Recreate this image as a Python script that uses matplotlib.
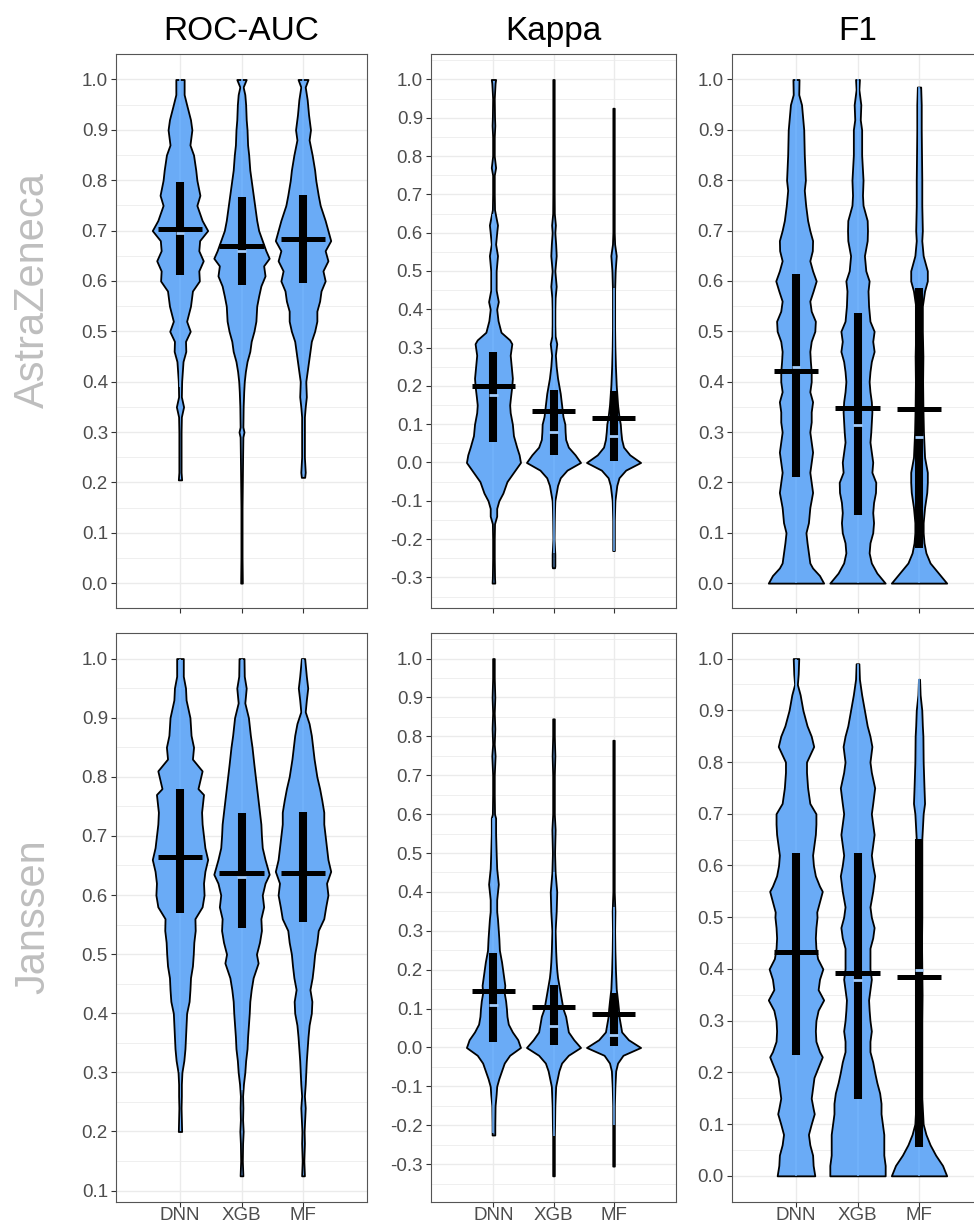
import numpy as np
import matplotlib.pyplot as plt

plt.rcParams["font.family"] = ["Liberation Sans", "DejaVu Sans"]
plt.rcParams["axes.unicode_minus"] = False

models = ["DNN", "XGB", "MF"]
metrics = ["ROC-AUC", "Kappa", "F1"]
companies = ["AstraZeneca", "Janssen"]

# violin outlines: y values and relative half-widths (1 = widest)
# AstraZeneca / ROC-AUC
az_auc_dnn_y = [0.205, 0.22, 0.25, 0.30, 0.33, 0.35, 0.37, 0.40, 0.44, 0.46, 0.48, 0.50, 0.52, 0.55, 0.58,
                0.60, 0.62, 0.64, 0.66, 0.68, 0.70, 0.72, 0.75, 0.77, 0.80, 0.82, 0.85, 0.87, 0.90, 0.92,
                0.95, 0.97, 1.00]
az_auc_dnn_w = [0.06, 0.04, 0.04, 0.04, 0.05, 0.13, 0.05, 0.06, 0.11, 0.21, 0.20, 0.37, 0.24, 0.38, 0.45,
                0.70, 0.68, 0.84, 0.68, 0.71, 1.00, 0.80, 0.61, 0.72, 0.61, 0.57, 0.49, 0.36, 0.43, 0.38,
                0.24, 0.15, 0.15]
az_auc_xgb_y = [0.0, 0.05, 0.10, 0.15, 0.20, 0.25, 0.29, 0.30, 0.31, 0.35, 0.38, 0.40, 0.42, 0.44, 0.46,
                0.48, 0.50, 0.52, 0.55, 0.57, 0.59, 0.61, 0.63, 0.645, 0.66, 0.68, 0.70, 0.72, 0.74, 0.76,
                0.78, 0.80, 0.82, 0.85, 0.87, 0.90, 0.92, 0.95, 0.97, 0.985, 1.0]
az_auc_xgb_w = [0.03, 0.02, 0.02, 0.02, 0.03, 0.04, 0.05, 0.09, 0.05, 0.06, 0.08, 0.10, 0.14, 0.20, 0.30,
                0.35, 0.45, 0.52, 0.55, 0.62, 0.70, 0.85, 0.80, 1.0, 0.88, 0.75, 0.62, 0.55, 0.50, 0.45,
                0.40, 0.35, 0.30, 0.26, 0.22, 0.20, 0.17, 0.15, 0.12, 0.06, 0.17]
az_auc_mf_y = [0.21, 0.22, 0.25, 0.30, 0.33, 0.35, 0.37, 0.40, 0.42, 0.44, 0.46, 0.48, 0.50, 0.52, 0.54,
               0.56, 0.58, 0.60, 0.62, 0.64, 0.66, 0.68, 0.70, 0.72, 0.75, 0.77, 0.80, 0.82, 0.85, 0.88,
               0.90, 0.93, 0.96, 0.985, 1.0]
az_auc_mf_w = [0.06, 0.08, 0.05, 0.05, 0.05, 0.08, 0.12, 0.10, 0.15, 0.20, 0.25, 0.30, 0.42, 0.50, 0.50,
               0.60, 0.65, 0.80, 0.72, 0.90, 0.80, 1.0, 0.90, 0.80, 0.62, 0.55, 0.46, 0.42, 0.33, 0.22,
               0.27, 0.20, 0.15, 0.08, 0.18]

# AstraZeneca / Kappa
az_kap_dnn_y = [-0.315, -0.30, -0.25, -0.20, -0.16, -0.14, -0.12, -0.10, -0.08, -0.05, -0.03, -0.01, 0.0,
                0.02, 0.04, 0.07, 0.10, 0.13, 0.15, 0.17, 0.20, 0.22, 0.25, 0.28, 0.31, 0.32, 0.34, 0.37,
                0.40, 0.42, 0.45, 0.48, 0.50, 0.54, 0.57, 0.60, 0.62, 0.645, 0.66, 0.70, 0.75, 0.77, 0.80,
                0.85, 0.88, 0.90, 0.95, 0.99, 1.0]
az_kap_dnn_w = [0.05, 0.04, 0.03, 0.03, 0.04, 0.12, 0.12, 0.20, 0.35, 0.50, 0.70, 0.90, 1.0,
                0.95, 0.86, 0.74, 0.70, 0.62, 0.60, 0.63, 0.68, 0.70, 0.66, 0.62, 0.68, 0.60, 0.28, 0.17,
                0.12, 0.18, 0.10, 0.10, 0.10, 0.15, 0.08, 0.12, 0.15, 0.08, 0.04, 0.03, 0.03, 0.08, 0.03,
                0.03, 0.05, 0.04, 0.03, 0.06, 0.08]
az_kap_xgb_y = [-0.275, -0.27, -0.24, -0.20, -0.15, -0.12, -0.10, -0.08, -0.06, -0.04, -0.02, 0.0, 0.02,
                0.04, 0.06, 0.08, 0.10, 0.12, 0.15, 0.18, 0.20, 0.22, 0.25, 0.28, 0.31, 0.33, 0.36, 0.40,
                0.43, 0.46, 0.50, 0.54, 0.57, 0.60, 0.62, 0.65, 0.70, 0.80, 0.90, 1.0]
az_kap_xgb_w = [0.04, 0.05, 0.05, 0.02, 0.03, 0.04, 0.05, 0.10, 0.15, 0.25, 0.50, 1.0, 0.80,
                0.55, 0.45, 0.43, 0.42, 0.35, 0.30, 0.25, 0.20, 0.15, 0.10, 0.07, 0.12, 0.06, 0.05, 0.05,
                0.06, 0.10, 0.05, 0.10, 0.08, 0.05, 0.07, 0.03, 0.025, 0.025, 0.025, 0.025]
az_kap_mf_y = [-0.23, -0.20, -0.15, -0.10, -0.06, -0.04, -0.02, 0.0, 0.02, 0.04, 0.06, 0.08, 0.10, 0.12,
               0.15, 0.20, 0.25, 0.30, 0.35, 0.45, 0.50, 0.54, 0.57, 0.60, 0.70, 0.80, 0.925]
az_kap_mf_w = [0.03, 0.03, 0.03, 0.05, 0.12, 0.20, 0.45, 1.0, 0.60, 0.37, 0.30, 0.27, 0.25, 0.20,
               0.15, 0.10, 0.07, 0.05, 0.04, 0.04, 0.06, 0.10, 0.04, 0.025, 0.025, 0.025, 0.025]

# AstraZeneca / F1
az_f1_dnn_y = [0.0, 0.015, 0.03, 0.04, 0.06, 0.08, 0.10, 0.12, 0.15, 0.18, 0.20, 0.22, 0.24, 0.26, 0.28,
               0.30, 0.32, 0.34, 0.36, 0.38, 0.40, 0.42, 0.44, 0.46, 0.48, 0.50, 0.52, 0.54, 0.56, 0.58,
               0.60, 0.62, 0.64, 0.66, 0.68, 0.70, 0.72, 0.75, 0.78, 0.80, 0.85, 0.90, 0.95, 0.97, 1.0]
az_f1_dnn_w = [1.0, 0.85, 0.60, 0.50, 0.45, 0.40, 0.36, 0.45, 0.50, 0.60, 0.55, 0.50, 0.55, 0.60, 0.55,
               0.50, 0.55, 0.55, 0.60, 0.50, 0.55, 0.55, 0.52, 0.50, 0.55, 0.68, 0.70, 0.55, 0.50, 0.62,
               0.73, 0.60, 0.50, 0.59, 0.60, 0.50, 0.42, 0.35, 0.30, 0.34, 0.30, 0.28, 0.20, 0.10, 0.11]
az_f1_xgb_y = [0.0, 0.02, 0.04, 0.06, 0.08, 0.10, 0.12, 0.14, 0.16, 0.18, 0.20, 0.22, 0.24, 0.26, 0.28,
               0.30, 0.32, 0.34, 0.36, 0.38, 0.40, 0.42, 0.44, 0.46, 0.48, 0.50, 0.52, 0.55, 0.58, 0.60,
               0.62, 0.65, 0.68, 0.70, 0.72, 0.75, 0.77, 0.80, 0.85, 0.90, 0.92, 0.95, 0.98, 1.0]
az_f1_xgb_w = [1.0, 0.70, 0.50, 0.42, 0.45, 0.55, 0.58, 0.55, 0.58, 0.65, 0.66, 0.52, 0.55, 0.50, 0.45,
               0.48, 0.50, 0.52, 0.50, 0.45, 0.42, 0.45, 0.50, 0.60, 0.55, 0.60, 0.45, 0.40, 0.38, 0.42,
               0.30, 0.25, 0.35, 0.36, 0.35, 0.20, 0.18, 0.20, 0.15, 0.15, 0.10, 0.12, 0.05, 0.07]
az_f1_mf_y = [0.0, 0.02, 0.04, 0.06, 0.08, 0.10, 0.12, 0.15, 0.18, 0.20, 0.22, 0.25, 0.30, 0.35, 0.40,
              0.45, 0.50, 0.55, 0.58, 0.60, 0.62, 0.65, 0.68, 0.70, 0.75, 0.80, 0.85, 0.90, 0.95, 0.985]
az_f1_mf_w = [1.0, 0.70, 0.40, 0.25, 0.18, 0.15, 0.15, 0.20, 0.28, 0.30, 0.30, 0.20, 0.16, 0.14, 0.13,
              0.14, 0.12, 0.12, 0.20, 0.30, 0.30, 0.15, 0.10, 0.12, 0.10, 0.10, 0.09, 0.08, 0.08, 0.06]

# Janssen / ROC-AUC
j_auc_dnn_y = [0.20, 0.22, 0.24, 0.26, 0.28, 0.30, 0.32, 0.34, 0.36, 0.38, 0.40, 0.42, 0.44, 0.46, 0.48,
               0.50, 0.52, 0.54, 0.56, 0.58, 0.60, 0.62, 0.64, 0.66, 0.68, 0.70, 0.72, 0.74, 0.77, 0.78,
               0.81, 0.83, 0.85, 0.87, 0.90, 0.93, 0.95, 0.97, 1.0]
j_auc_dnn_w = [0.06, 0.05, 0.04, 0.05, 0.05, 0.07, 0.14, 0.18, 0.20, 0.22, 0.24, 0.33, 0.36, 0.38, 0.45,
               0.48, 0.50, 0.55, 0.54, 0.80, 0.87, 0.85, 0.90, 1.0, 0.90, 0.85, 0.80, 0.78, 0.85, 0.65,
               0.80, 0.45, 0.49, 0.40, 0.36, 0.22, 0.20, 0.12, 0.12]
j_auc_xgb_y = [0.125, 0.15, 0.18, 0.20, 0.22, 0.24, 0.26, 0.28, 0.30, 0.32, 0.34, 0.36, 0.38, 0.40, 0.42,
               0.44, 0.46, 0.485, 0.50, 0.52, 0.54, 0.56, 0.58, 0.60, 0.62, 0.635, 0.66, 0.68, 0.70, 0.72,
               0.74, 0.76, 0.78, 0.80, 0.82, 0.85, 0.87, 0.90, 0.925, 0.95, 0.97, 1.0]
j_auc_xgb_w = [0.05, 0.03, 0.04, 0.06, 0.04, 0.05, 0.04, 0.07, 0.12, 0.15, 0.20, 0.22, 0.25, 0.28, 0.30,
               0.35, 0.42, 0.60, 0.54, 0.65, 0.72, 0.70, 0.80, 0.75, 0.85, 1.0, 0.85, 0.75, 0.72, 0.70,
               0.65, 0.60, 0.55, 0.50, 0.45, 0.38, 0.32, 0.25, 0.12, 0.17, 0.10, 0.09]
j_auc_mf_y = [0.125, 0.15, 0.18, 0.20, 0.22, 0.24, 0.26, 0.28, 0.30, 0.32, 0.34, 0.36, 0.38, 0.40, 0.42,
              0.44, 0.46, 0.48, 0.50, 0.52, 0.54, 0.56, 0.58, 0.60, 0.62, 0.64, 0.66, 0.68, 0.70, 0.72,
              0.74, 0.76, 0.78, 0.80, 0.83, 0.85, 0.87, 0.89, 0.91, 0.93, 0.95, 0.97, 1.0]
j_auc_mf_w = [0.05, 0.03, 0.05, 0.04, 0.06, 0.08, 0.05, 0.08, 0.10, 0.12, 0.15, 0.18, 0.22, 0.30, 0.32,
              0.25, 0.33, 0.38, 0.42, 0.50, 0.55, 0.75, 0.82, 0.90, 0.85, 1.0, 0.90, 0.85, 0.80, 0.75,
              0.75, 0.68, 0.60, 0.50, 0.40, 0.35, 0.30, 0.22, 0.08, 0.12, 0.17, 0.12, 0.06]

# Janssen / Kappa
j_kap_dnn_y = [-0.225, -0.20, -0.15, -0.12, -0.10, -0.08, -0.06, -0.04, -0.02, 0.0, 0.02, 0.04, 0.06,
               0.08, 0.10, 0.12, 0.14, 0.16, 0.18, 0.20, 0.22, 0.25, 0.28, 0.30, 0.33, 0.35, 0.38, 0.40,
               0.42, 0.44, 0.46, 0.50, 0.55, 0.59, 0.60, 0.65, 0.70, 0.75, 0.78, 0.82, 0.86, 0.90, 0.95,
               1.0]
j_kap_dnn_w = [0.05, 0.05, 0.06, 0.10, 0.12, 0.20, 0.30, 0.40, 0.60, 1.0, 0.90, 0.70, 0.55,
               0.50, 0.48, 0.45, 0.40, 0.42, 0.38, 0.34, 0.30, 0.22, 0.20, 0.18, 0.15, 0.12, 0.12, 0.15,
               0.18, 0.15, 0.12, 0.10, 0.08, 0.08, 0.04, 0.03, 0.03, 0.06, 0.03, 0.05, 0.03, 0.05, 0.03,
               0.03]
j_kap_xgb_y = [-0.33, -0.30, -0.23, -0.20, -0.15, -0.10, -0.06, -0.04, -0.02, 0.0, 0.02, 0.04, 0.06, 0.08,
               0.10, 0.12, 0.14, 0.16, 0.18, 0.20, 0.22, 0.25, 0.30, 0.35, 0.40, 0.45, 0.50, 0.56, 0.60,
               0.70, 0.75, 0.80, 0.845]
j_kap_xgb_w = [0.03, 0.03, 0.03, 0.04, 0.05, 0.08, 0.20, 0.30, 0.55, 1.0, 0.75, 0.55, 0.50, 0.45,
               0.35, 0.30, 0.25, 0.20, 0.15, 0.12, 0.10, 0.08, 0.06, 0.10, 0.12, 0.06, 0.04, 0.06, 0.03,
               0.03, 0.05, 0.03, 0.03]
j_kap_mf_y = [-0.305, -0.20, -0.15, -0.10, -0.06, -0.04, -0.02, 0.0, 0.02, 0.04, 0.06, 0.08, 0.10, 0.12,
              0.15, 0.20, 0.25, 0.30, 0.35, 0.40, 0.60, 0.79]
j_kap_mf_w = [0.03, 0.03, 0.03, 0.05, 0.08, 0.15, 0.35, 1.0, 0.55, 0.30, 0.25, 0.20, 0.18, 0.15,
              0.10, 0.07, 0.05, 0.04, 0.05, 0.025, 0.025, 0.025]

# Janssen / F1
j_f1_dnn_y = [0.0, 0.02, 0.04, 0.06, 0.08, 0.10, 0.12, 0.13, 0.15, 0.17, 0.19, 0.21, 0.23, 0.24, 0.26,
              0.28, 0.30, 0.32, 0.34, 0.36, 0.38, 0.40, 0.42, 0.44, 0.46, 0.48, 0.50, 0.51, 0.53, 0.55,
              0.56, 0.58, 0.60, 0.62, 0.64, 0.66, 0.68, 0.70, 0.72, 0.75, 0.78, 0.80, 0.83, 0.85, 0.87,
              0.90, 0.93, 0.95, 0.97, 1.0]
j_f1_dnn_w = [0.68, 0.62, 0.60, 0.50, 0.45, 0.55, 0.66, 0.62, 0.55, 0.60, 0.65, 0.80, 0.95, 0.85, 0.72,
              0.70, 0.72, 0.80, 1.0, 0.80, 0.85, 0.97, 0.78, 0.72, 0.70, 0.72, 0.76, 0.75, 0.85, 0.95,
              0.85, 0.70, 0.63, 0.60, 0.65, 0.70, 0.72, 0.72, 0.50, 0.42, 0.38, 0.38, 0.64, 0.55, 0.40,
              0.25, 0.15, 0.05, 0.08, 0.10]
j_f1_xgb_y = [0.0, 0.02, 0.04, 0.06, 0.08, 0.10, 0.12, 0.14, 0.16, 0.18, 0.20, 0.22, 0.24, 0.26, 0.28,
              0.30, 0.32, 0.34, 0.36, 0.38, 0.40, 0.42, 0.44, 0.46, 0.48, 0.50, 0.52, 0.55, 0.58, 0.60,
              0.62, 0.64, 0.66, 0.68, 0.70, 0.72, 0.75, 0.78, 0.80, 0.83, 0.85, 0.87, 0.90, 0.93, 0.96,
              0.99]
j_f1_xgb_w = [1.0, 1.0, 0.95, 0.95, 0.95, 0.90, 0.85, 0.85, 0.80, 0.70, 0.62, 0.55, 0.45, 0.45, 0.50,
              0.45, 0.42, 0.40, 0.45, 0.50, 0.45, 0.45, 0.45, 0.55, 0.60, 0.50, 0.45, 0.55, 0.62, 0.55,
              0.50, 0.55, 0.60, 0.55, 0.50, 0.55, 0.62, 0.50, 0.45, 0.52, 0.45, 0.35, 0.25, 0.15, 0.07,
              0.05]
j_f1_mf_y = [0.0, 0.02, 0.04, 0.06, 0.08, 0.10, 0.15, 0.20, 0.25, 0.30, 0.35, 0.40, 0.45, 0.50, 0.55,
             0.60, 0.65, 0.70, 0.72, 0.75, 0.80, 0.85, 0.87, 0.90, 0.93, 0.96]
j_f1_mf_w = [1.0, 0.85, 0.60, 0.40, 0.25, 0.15, 0.10, 0.10, 0.10, 0.10, 0.11, 0.10, 0.09, 0.10, 0.10,
             0.10, 0.10, 0.15, 0.20, 0.18, 0.15, 0.14, 0.12, 0.10, 0.04, 0.02]

# summary marks per panel, order DNN, XGB, MF
az_auc_mean = [0.704, 0.670, 0.683]
az_auc_lo = [0.611, 0.591, 0.596]
az_auc_hi = [0.796, 0.767, 0.770]
az_auc_med = [0.695, 0.659, 0.683]
az_auc_wlo = [0.39, 0.39, 0.39]
az_auc_whi = [1.0, 1.0, 1.0]

az_kap_mean = [0.199, 0.135, 0.116]
az_kap_lo = [0.054, 0.019, 0.004]
az_kap_hi = [0.289, 0.190, 0.187]
az_kap_med = [0.175, 0.080, 0.070]
az_kap_wlo = [-0.145, -0.237, -0.23]
az_kap_whi = [0.65, 0.455, 0.455]

az_f1_mean = [0.421, 0.348, 0.346]
az_f1_lo = [0.210, 0.136, 0.069]
az_f1_hi = [0.613, 0.536, 0.585]
az_f1_med = [0.430, 0.314, 0.291]
az_f1_wlo = [0.0, 0.0, 0.0]
az_f1_whi = [1.0, 1.0, 0.985]

j_auc_mean = [0.664, 0.637, 0.637]
j_auc_lo = [0.569, 0.545, 0.554]
j_auc_hi = [0.779, 0.739, 0.741]
j_auc_med = [0.664, 0.631, 0.637]
j_auc_wlo = [0.30, 0.27, 0.285]
j_auc_whi = [1.0, 1.0, 1.0]

j_kap_mean = [0.145, 0.104, 0.086]
j_kap_lo = [0.013, 0.007, 0.004]
j_kap_hi = [0.244, 0.160, 0.139]
j_kap_med = [0.108, 0.055, 0.032]
j_kap_wlo = [-0.22, -0.227, -0.20]
j_kap_whi = [0.59, 0.45, 0.36]

j_f1_mean = [0.432, 0.393, 0.384]
j_f1_lo = [0.234, 0.148, 0.055]
j_f1_hi = [0.625, 0.625, 0.652]
j_f1_med = [0.432, 0.379, 0.398]
j_f1_wlo = [0.0, 0.0, 0.0]
j_f1_whi = [1.0, 0.99, 0.96]

panels = {
    (0, 0): ([(az_auc_dnn_y, az_auc_dnn_w), (az_auc_xgb_y, az_auc_xgb_w), (az_auc_mf_y, az_auc_mf_w)],
             (az_auc_mean, az_auc_lo, az_auc_hi, az_auc_med, az_auc_wlo, az_auc_whi)),
    (0, 1): ([(az_kap_dnn_y, az_kap_dnn_w), (az_kap_xgb_y, az_kap_xgb_w), (az_kap_mf_y, az_kap_mf_w)],
             (az_kap_mean, az_kap_lo, az_kap_hi, az_kap_med, az_kap_wlo, az_kap_whi)),
    (0, 2): ([(az_f1_dnn_y, az_f1_dnn_w), (az_f1_xgb_y, az_f1_xgb_w), (az_f1_mf_y, az_f1_mf_w)],
             (az_f1_mean, az_f1_lo, az_f1_hi, az_f1_med, az_f1_wlo, az_f1_whi)),
    (1, 0): ([(j_auc_dnn_y, j_auc_dnn_w), (j_auc_xgb_y, j_auc_xgb_w), (j_auc_mf_y, j_auc_mf_w)],
             (j_auc_mean, j_auc_lo, j_auc_hi, j_auc_med, j_auc_wlo, j_auc_whi)),
    (1, 1): ([(j_kap_dnn_y, j_kap_dnn_w), (j_kap_xgb_y, j_kap_xgb_w), (j_kap_mf_y, j_kap_mf_w)],
             (j_kap_mean, j_kap_lo, j_kap_hi, j_kap_med, j_kap_wlo, j_kap_whi)),
    (1, 2): ([(j_f1_dnn_y, j_f1_dnn_w), (j_f1_xgb_y, j_f1_xgb_w), (j_f1_mf_y, j_f1_mf_w)],
             (j_f1_mean, j_f1_lo, j_f1_hi, j_f1_med, j_f1_wlo, j_f1_whi)),
}

FILL = "#6aabf6"
WHISK = "#72b3fc"
MEDC = "#a3cdfc"
GRID = "#ebebeb"

W, H = 974, 1226
fig = plt.figure(figsize=(W / 100, H / 100), dpi=100)

cols = [(116, 251), (431, 245), (732, 251)]  # left, width in px
rows = [(54.3, 608.3), (632.7, 1201.7)]      # top, bottom in px
label_y = [290, 917]                          # row label centres in px

for (r, c), (violins, stats) in panels.items():
    left, width = cols[c]
    top, bottom = rows[r]
    ax = fig.add_axes([left / W, 1 - bottom / H, width / W, (bottom - top) / H])
    mean, lo, hi, med, wlo, whi = stats

    for i, (ys, ws) in enumerate(violins):
        pos = i + 1
        ys = np.asarray(ys)
        hw = 0.45 * np.asarray(ws)
        ax.fill_betweenx(ys, pos - hw, pos + hw, facecolor=FILL, edgecolor="black",
                         linewidth=1.3, joinstyle="round", zorder=2)
        ax.plot([pos, pos], [wlo[i], whi[i]], color=WHISK, lw=1.1, zorder=3,
                solid_capstyle="butt")
        ax.plot([pos, pos], [lo[i], hi[i]], color="black", lw=5.8, zorder=4,
                solid_capstyle="butt")
        ax.plot([pos - 0.07, pos + 0.07], [med[i], med[i]], color=MEDC, lw=2.0,
                zorder=5, solid_capstyle="butt")
        ax.plot([pos - 0.36, pos + 0.36], [mean[i], mean[i]], color="black", lw=3.6,
                zorder=6, solid_capstyle="butt")

    ymin = min(min(v[0]) for v in violins)
    ymax = max(max(v[0]) for v in violins)
    pad = 0.05 * (ymax - ymin)
    ylo, yhi = ymin - pad, ymax + pad
    ax.set_ylim(ylo, yhi)
    ax.set_xlim(-0.04, 4.04)

    majors = [round(k * 0.1, 1) + 0.0 for k in range(int(np.ceil(ylo * 10 - 1e-9)),
                                                     int(np.floor(yhi * 10 + 1e-9)) + 1)]
    minors = [round(k * 0.1 + 0.05, 2) for k in range(int(np.floor(ylo * 10)) - 1,
                                                     int(np.ceil(yhi * 10)) + 1)]
    minors = [m for m in minors if ylo <= m <= yhi]
    ax.set_yticks(majors)
    ax.set_yticklabels([f"{m:.1f}" for m in majors])
    ax.set_yticks(minors, minor=True)
    ax.set_xticks([1, 2, 3])
    ax.set_xticklabels(models if r == 1 else ["", "", ""])

    ax.set_axisbelow(True)
    ax.grid(which="major", color=GRID, lw=1.0)
    ax.grid(which="minor", axis="y", color=GRID, lw=0.55)
    for s in ax.spines.values():
        s.set_color("#555555")
        s.set_linewidth(0.8)
    ax.tick_params(axis="both", which="major", length=3.6, width=0.8, color="#333333",
                   labelcolor="#4d4d4d")
    ax.tick_params(axis="y", labelsize=13.5, pad=2.2)
    ax.tick_params(axis="x", labelsize=13.5, pad=0.5)
    ax.tick_params(which="minor", length=0)

    if r == 0:
        fig.text((left + width / 2) / W, 1 - 40 / H, metrics[c], ha="center",
                 va="baseline", fontsize=24, color="black")

for r, name in enumerate(companies):
    fig.text(44 / W, 1 - label_y[r] / H, name, rotation=90, rotation_mode="anchor",
             ha="center", va="baseline", fontsize=30, color="#bebebe")

fig.savefig("out.png", dpi=100)
